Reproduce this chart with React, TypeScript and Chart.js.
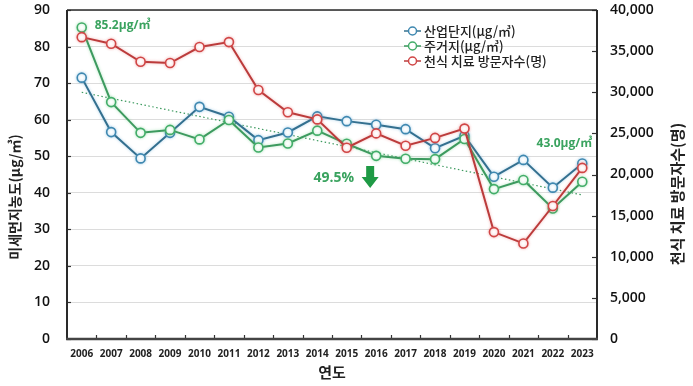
import React, { useEffect, useRef } from "react";
import { Chart, registerables } from "chart.js";

Chart.register(...registerables);

const years = ["2006","2007","2008","2009","2010","2011","2012","2013","2014","2015","2016","2017","2018","2019","2020","2021","2022","2023"];
const industrial = [71.5, 56.6, 49.4, 56.4, 63.5, 60.8, 54.4, 56.5, 60.9, 59.6, 58.6, 57.4, 52.2, 55.6, 44.4, 49.0, 41.4, 48.0];
const residential = [85.2, 64.8, 56.4, 57.2, 54.6, 59.9, 52.4, 53.5, 57.0, 53.4, 50.1, 49.3, 49.2, 54.7, 41.0, 43.5, 35.7, 43.0];
const asthma = [36700, 35900, 33700, 33550, 35500, 36100, 30270, 27560, 26700, 23260, 25000, 23500, 24450, 25580, 13000, 11620, 16170, 20800];
const trend = [67.5, null, null, null, null, null, null, null, null, null, null, null, null, null, null, null, null, 39.4];
const leftTicks = [0, 10, 20, 30, 40, 50, 60, 70, 80, 90];
const rightTicks = [0, 5000, 10000, 15000, 20000, 25000, 30000, 35000, 40000];
const legendLabels = ["산업단지(μg/㎥)", "주거지(μg/㎥)", "천식 치료 방문자수(명)"];

const BLUE_LINE = "#34708f";
const BLUE_PT = "#3f88b0";
const GREEN_LINE = "#3d9a5f";
const GREEN_PT = "#43ad69";
const RED_LINE = "#bb3b3b";
const RED_PT = "#d04646";
const GREEN_TEXT = "#3aa35f";
const FONT = '"Open Sans", "Noto Sans CJK KR", sans-serif';
const KFONT = '"Noto Sans CJK KR", "Open Sans", sans-serif';

const glowPlugin = {
  id: "glow",
  beforeDatasetDraw(chart: any, args: any) {
    const ctx = chart.ctx;
    ctx.save();
    const ds = chart.data.datasets[args.index];
    if (ds.glow) {
      ctx.shadowColor = ds.glow;
      ctx.shadowBlur = 3;
    }
  },
  afterDatasetDraw(chart: any) {
    chart.ctx.restore();
  },
};

const decorPlugin = {
  id: "decor",
  afterDraw(chart: any) {
    const ctx = chart.ctx;
    const ca = chart.chartArea;
    const x = chart.scales.x;
    const y = chart.scales.y;
    const y2 = chart.scales.y2;
    ctx.save();
    // inward ticks
    ctx.strokeStyle = "#333";
    ctx.lineWidth = 1.2;
    leftTicks.forEach((v) => {
      const py = Math.round(y.getPixelForValue(v)) + 0.5;
      ctx.beginPath();
      ctx.moveTo(ca.left, py);
      ctx.lineTo(ca.left + 4, py);
      ctx.stroke();
    });
    rightTicks.forEach((v) => {
      const py = Math.round(y2.getPixelForValue(v)) + 0.5;
      ctx.beginPath();
      ctx.moveTo(ca.right, py);
      ctx.lineTo(ca.right - 5, py);
      ctx.stroke();
    });
    for (let i = 0; i < years.length - 1; i++) {
      const px = Math.round((x.getPixelForValue(i) + x.getPixelForValue(i + 1)) / 2) + 0.5;
      ctx.beginPath();
      ctx.moveTo(px, ca.bottom);
      ctx.lineTo(px, ca.bottom - 4);
      ctx.stroke();
    }
    // frame
    ctx.strokeStyle = "#2a2a2a";
    ctx.lineWidth = 1.5;
    ctx.beginPath();
    ctx.moveTo(ca.left, ca.top);
    ctx.lineTo(ca.right, ca.top);
    ctx.stroke();
    ctx.lineWidth = 2;
    ctx.beginPath();
    ctx.moveTo(ca.left, ca.top);
    ctx.lineTo(ca.left, ca.bottom);
    ctx.moveTo(ca.right, ca.top);
    ctx.lineTo(ca.right, ca.bottom);
    ctx.stroke();
    ctx.strokeStyle = "#444";
    ctx.lineWidth = 2.5;
    ctx.beginPath();
    ctx.moveTo(ca.left - 1, ca.bottom);
    ctx.lineTo(ca.right + 1, ca.bottom);
    ctx.stroke();

    // legend
    const lx = 404;
    const rows = [31, 46, 61];
    const lc = [[BLUE_LINE, BLUE_PT], [GREEN_LINE, GREEN_PT], [RED_LINE, RED_PT]];
    rows.forEach((ry, i) => {
      ctx.strokeStyle = lc[i][0];
      ctx.lineWidth = 1.5;
      ctx.beginPath();
      ctx.moveTo(lx, ry);
      ctx.lineTo(lx + 17, ry);
      ctx.stroke();
      ctx.fillStyle = "#fff";
      ctx.strokeStyle = lc[i][1];
      ctx.beginPath();
      ctx.arc(lx + 8.5, ry, 4, 0, Math.PI * 2);
      ctx.fill();
      ctx.stroke();
      ctx.fillStyle = "#222";
      ctx.font = `500 13px ${KFONT}`;
      ctx.textAlign = "left";
      ctx.textBaseline = "middle";
      ctx.fillText(legendLabels[i], lx + 20, ry);
    });

    // annotations
    ctx.fillStyle = GREEN_TEXT;
    ctx.font = `bold 12px ${FONT}`;
    ctx.textBaseline = "middle";
    ctx.textAlign = "left";
    ctx.fillText(residential[0].toFixed(1) + "μg/㎥", x.getPixelForValue(0) + 13, y.getPixelForValue(residential[0]) - 2);
    ctx.textAlign = "right";
    const last = residential.length - 1;
    ctx.fillText(residential[last].toFixed(1) + "μg/㎥", x.getPixelForValue(last) + 10, y.getPixelForValue(residential[last]) - 38);

    const ax = x.getPixelForValue(10) - 6;
    ctx.font = `bold 14px ${FONT}`;
    ctx.textAlign = "right";
    ctx.fillText("49.5%", ax - 16, 178);
    ctx.fillStyle = "#1f9a45";
    ctx.beginPath();
    ctx.moveTo(ax - 4, 166);
    ctx.lineTo(ax + 4, 166);
    ctx.lineTo(ax + 4, 177);
    ctx.lineTo(ax + 8.5, 177);
    ctx.lineTo(ax, 188);
    ctx.lineTo(ax - 8.5, 177);
    ctx.lineTo(ax - 4, 177);
    ctx.closePath();
    ctx.fill();

    // axis titles
    ctx.fillStyle = "#222";
    ctx.font = `bold 14px ${KFONT}`;
    ctx.textAlign = "center";
    ctx.textBaseline = "middle";
    ctx.save();
    ctx.translate(15, 197);
    ctx.rotate(-Math.PI / 2);
    ctx.fillText("미세먼지농도(μg/㎥)", 0, 0);
    ctx.restore();
    ctx.font = `bold 15px ${KFONT}`;
    ctx.save();
    ctx.translate(677, 194);
    ctx.rotate(-Math.PI / 2);
    ctx.fillText("천식 치료 방문자수(명)", 0, 0);
    ctx.restore();
    ctx.fillText("연도", (ca.left + ca.right) / 2, 372);
    ctx.restore();
  },
};

export default function App() {
  const ref = useRef<HTMLCanvasElement>(null);
  useEffect(() => {
    document.body.style.margin = "0";
    const canvas = ref.current;
    if (!canvas) return;
    const pointBase = { pointRadius: 4.5, pointBackgroundColor: "#fff", pointBorderWidth: 1.6, borderWidth: 2, tension: 0 };
    const chart = new Chart(canvas, {
      type: "line",
      data: {
        labels: years,
        datasets: [
          { label: legendLabels[0], data: industrial, yAxisID: "y", borderColor: BLUE_LINE, pointBorderColor: BLUE_PT, order: 2, glow: "rgba(80,160,210,0.45)", ...pointBase } as any,
          { label: legendLabels[1], data: residential, yAxisID: "y", borderColor: GREEN_LINE, pointBorderColor: GREEN_PT, order: 1, glow: "rgba(90,200,120,0.45)", ...pointBase } as any,
          { label: legendLabels[2], data: asthma, yAxisID: "y2", borderColor: RED_LINE, pointBorderColor: RED_PT, order: 0, glow: "rgba(230,100,100,0.45)", ...pointBase } as any,
          { label: "trend", data: trend, yAxisID: "y", borderColor: GREEN_LINE, borderWidth: 1.2, borderDash: [1.5, 2.5], pointRadius: 0, spanGaps: true, order: 3 } as any,
        ],
      },
      options: {
        animation: false,
        responsive: false,
        devicePixelRatio: 1,
        layout: { padding: { top: 10, left: 0, right: 0, bottom: 0 }, autoPadding: false },
        plugins: { legend: { display: false }, tooltip: { enabled: false } },
        scales: {
          x: {
            offset: true,
            grid: { display: false, offset: true },
            border: { display: false },
            ticks: { color: "#222", font: { family: FONT, size: 10, weight: "bold" }, padding: 1, maxRotation: 0, autoSkip: false },
            afterFit: (s: any) => { s.height = 47; s.paddingLeft = 0; s.paddingRight = 0; },
          },
          y: {
            position: "left",
            min: 0,
            max: 90,
            ticks: { stepSize: 10, color: "#111", font: { family: FONT, size: 14, weight: 600 }, padding: 17 },
            grid: { color: "#dcdcdc", lineWidth: 1, drawTicks: false },
            border: { display: false },
            afterFit: (s: any) => { s.width = 67; s.paddingTop = 0; s.paddingBottom = 0; },
          },
          y2: {
            position: "right",
            min: 0,
            max: 40000,
            ticks: { stepSize: 5000, color: "#111", font: { family: FONT, size: 14, weight: 600 }, padding: 13, callback: (v: any) => Number(v).toLocaleString("en-US") },
            grid: { display: false, drawTicks: false },
            border: { display: false },
            afterFit: (s: any) => { s.width = 96; s.paddingTop = 0; s.paddingBottom = 0; },
          },
        },
      } as any,
      plugins: [glowPlugin, decorPlugin],
    });
    return () => chart.destroy();
  }, []);
  return <canvas ref={ref} width={693} height={386} style={{ display: "block", width: 693, height: 386 }} />;
}
